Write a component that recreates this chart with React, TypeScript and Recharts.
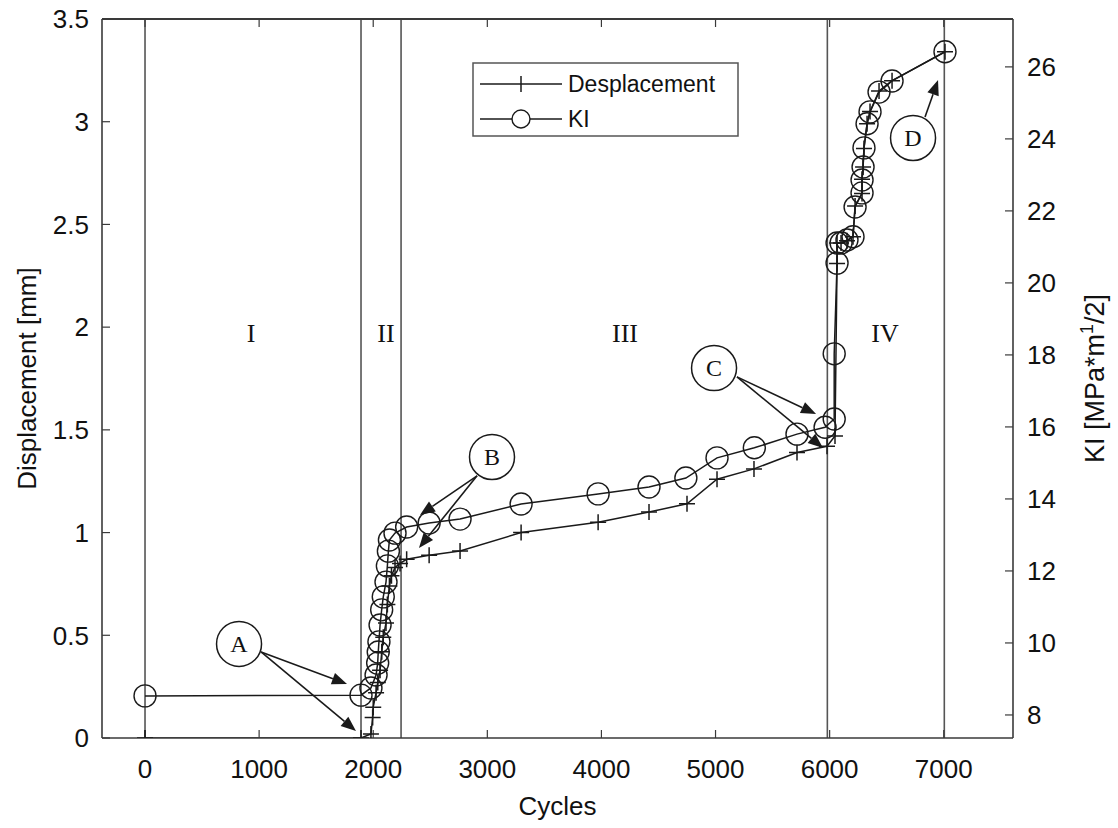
import React from "react";
import {
  ComposedChart,
  Line,
  XAxis,
  YAxis,
  ReferenceLine,
  ReferenceDot,
  Legend,
} from "recharts";

// axis ticks
const cycleTicks = [0, 1000, 2000, 3000, 4000, 5000, 6000, 7000];
const dispTicks = [0, 0.5, 1, 1.5, 2, 2.5, 3, 3.5];
const kiTicks = [8, 10, 12, 14, 16, 18, 20, 22, 24, 26];

// Displacement series (cycles / mm)
const dispCycles = [
  0, 1893, 1980, 1995, 2000, 2025, 2040, 2060, 2075, 2088, 2112, 2124, 2142, 2160,
  2191, 2235, 2293, 2490, 2761, 3296, 3971, 4417, 4750, 5013, 5337, 5714, 5977, 6047,
  6065, 6065, 6100, 6152, 6205, 6223, 6284, 6284, 6293, 6301, 6328, 6354, 6433, 6547, 7011,
];
const dispValues = [
  0, 0, 0.02, 0.1, 0.15, 0.22, 0.27, 0.33, 0.42, 0.49, 0.56, 0.65, 0.74, 0.79,
  0.83, 0.85, 0.87, 0.89, 0.91, 1.0, 1.05, 1.1, 1.14, 1.26, 1.31, 1.39, 1.42, 1.47,
  2.31, 2.41, 2.41, 2.42, 2.44, 2.59, 2.65, 2.72, 2.78, 2.87, 2.99, 3.05, 3.15, 3.2, 3.34,
];

// KI series (cycles / MPa*m^1/2)
const kiCycles = [
  0, 1893, 1980, 2025, 2039, 2044, 2050, 2060, 2074, 2088, 2112, 2124, 2133, 2142,
  2191, 2293, 2490, 2761, 3296, 3971, 4417, 4740, 5013, 5340, 5714, 5960, 6040, 6040,
  6065, 6065, 6100, 6152, 6205, 6223, 6284, 6284, 6293, 6301, 6328, 6354, 6433, 6547, 7011,
];
const kiValues = [
  8.53, 8.55, 8.75, 9.11, 9.44, 9.75, 10.03, 10.5, 10.92, 11.28, 11.69, 12.14, 12.55, 12.86,
  13.05, 13.22, 13.33, 13.44, 13.86, 14.14, 14.33, 14.58, 15.14, 15.42, 15.8, 15.99, 16.22, 18.03,
  20.55, 21.11, 21.11, 21.19, 21.28, 22.11, 22.5, 22.86, 23.22, 23.75, 24.42, 24.75, 25.3, 25.61, 26.42,
];

// stage boundaries and labels
const stageLines = [0, 1893, 2244, 5980, 7005];
const stageNames = ["I", "II", "III", "IV"];
const stageLabelCycles = [929, 2112, 4207, 6486];
const stageLabelDisp = 1.97;

// callouts (cycles, mm)
const calloutNames = ["A", "B", "C", "D"];
const calloutCenters = [
  [824, 0.458],
  [3041, 1.368],
  [4987, 1.801],
  [6731, 2.921],
];
const calloutArrows = [
  [[1017, 0.419], [1770, 0.263]],
  [[1017, 0.419], [1849, 0.034]],
  [[2910, 1.276], [2410, 1.086]],
  [[2910, 1.276], [2401, 0.925]],
  [[5188, 1.758], [5881, 1.577]],
  [[5188, 1.758], [5942, 1.412]],
  [[6836, 3.023], [6950, 3.203]],
];

const seriesNames = ["Desplacement", "KI"];

const dispData = dispCycles.map((c, i) => ({ cycles: c, disp: dispValues[i] }));
const kiData = kiCycles.map((c, i) => ({ cycles: c, ki: kiValues[i] }));

const X_DOMAIN = [-377, 7607];
const DISP_DOMAIN = [0, 3.5];

const INK = "#1a1a1a";
const AXIS = "#3a3a3a";
const SANS = "'Liberation Sans', Arial, sans-serif";
const SERIF = "'Liberation Serif', 'Times New Roman', serif";

const W = 1118;
const H = 828;
const TOP = 19;
const LEFT_W = 102;
const RIGHT_W = 105;
const BOTTOM_H = 90;
const PLOT_H = H - TOP - BOTTOM_H;

const tickStyle = { fill: "#111", fontSize: 26, fontFamily: SANS };

function PlusDot(p: any) {
  const { cx, cy, index } = p;
  if (cx == null || cy == null) return <g key={index} />;
  return (
    <path
      key={index}
      d={`M${cx - 8},${cy}H${cx + 8}M${cx},${cy - 8}V${cy + 8}`}
      stroke={INK}
      strokeWidth={1.5}
      fill="none"
    />
  );
}

function RingDot(p: any) {
  const { cx, cy, index } = p;
  if (cx == null || cy == null) return <g key={index} />;
  return <circle key={index} cx={cx} cy={cy} r={11} stroke={INK} strokeWidth={1.4} fill="none" />;
}

function Arrow(p: any) {
  const { x1, y1, x2, y2 } = p;
  const dx = x2 - x1;
  const dy = y2 - y1;
  const len = Math.hypot(dx, dy) || 1;
  const ux = dx / len;
  const uy = dy / len;
  const L = 15;
  const hw = 6;
  const bx = x2 - ux * L;
  const by = y2 - uy * L;
  const pts = `${x2},${y2} ${bx - uy * hw},${by + ux * hw} ${bx + uy * hw},${by - ux * hw}`;
  return (
    <g>
      <line x1={x1} y1={y1} x2={bx} y2={by} stroke={INK} strokeWidth={1.6} />
      <polygon points={pts} fill={INK} />
    </g>
  );
}

function LegendBox(props: any) {
  const names = (props.payload || []).map((e: any) => e.value);
  const labels = names.length === 2 ? names : seriesNames;
  return (
    <svg width={268} height={76} style={{ display: "block" }}>
      <rect x={1} y={1} width={265} height={73} fill="#fff" stroke="#555" strokeWidth={1.5} />
      <line x1={8} y1={22} x2={90} y2={22} stroke={INK} strokeWidth={1.5} />
      <line x1={49} y1={14} x2={49} y2={30} stroke={INK} strokeWidth={1.5} />
      <text x={96} y={30} fontSize={23} fontFamily={SANS} fill="#111">
        {labels[0]}
      </text>
      <line x1={8} y1={57} x2={90} y2={57} stroke={INK} strokeWidth={1.5} />
      <circle cx={49} cy={57} r={9} stroke={INK} strokeWidth={1.4} fill="#fff" />
      <text x={96} y={65} fontSize={23} fontFamily={SANS} fill="#111">
        {labels[1]}
      </text>
    </svg>
  );
}

export default function App() {
  const plotMidY = TOP + PLOT_H / 2;
  return (
    <div style={{ position: "absolute", left: 0, top: 0, width: W, height: H, background: "#fff" }}>
      <ComposedChart width={W} height={H} margin={{ top: 0, right: 0, bottom: 0, left: 0 }}>
        <XAxis
          dataKey="cycles"
          type="number"
          domain={X_DOMAIN}
          ticks={cycleTicks}
          interval={0}
          allowDataOverflow
          height={BOTTOM_H}
          tickSize={-8}
          tickMargin={30}
          tick={tickStyle}
          axisLine={{ stroke: AXIS, strokeWidth: 1.6 }}
          tickLine={{ stroke: AXIS, strokeWidth: 1.2 }}
          label={{
            content: () => (
              <text x={LEFT_W + (W - LEFT_W - RIGHT_W) / 2} y={H - 13} textAnchor="middle" fontSize={26} fontFamily={SANS} fill="#111">
                Cycles
              </text>
            ),
          }}
        />
        {/* top edge of the plot box, inward ticks, no labels */}
        <XAxis
          xAxisId="top"
          orientation="top"
          dataKey="cycles"
          type="number"
          domain={X_DOMAIN}
          ticks={cycleTicks}
          interval={0}
          allowDataOverflow
          height={TOP}
          tickSize={-8}
          tickMargin={0}
          tick={() => <g />}
          axisLine={{ stroke: AXIS, strokeWidth: 2 }}
          tickLine={{ stroke: AXIS, strokeWidth: 1.2 }}
        />
        <YAxis
          yAxisId="left"
          orientation="left"
          type="number"
          domain={DISP_DOMAIN}
          ticks={dispTicks}
          interval={0}
          allowDataOverflow
          width={LEFT_W}
          tickSize={-8}
          tickMargin={21}
          tick={tickStyle}
          axisLine={{ stroke: AXIS, strokeWidth: 1.6 }}
          tickLine={{ stroke: AXIS, strokeWidth: 1.2 }}
          label={{
            content: () => (
              <text
                x={36}
                y={plotMidY}
                transform={`rotate(-90, 36, ${plotMidY})`}
                textAnchor="middle"
                fontSize={26}
                fontFamily={SANS}
                fill="#111"
              >
                Displacement [mm]
              </text>
            ),
          }}
        />
        <YAxis
          yAxisId="right"
          orientation="right"
          type="number"
          domain={[7.36, 27.33]}
          ticks={kiTicks}
          interval={0}
          allowDataOverflow
          width={RIGHT_W}
          tickSize={-8}
          tickMargin={22}
          tick={tickStyle}
          axisLine={{ stroke: AXIS, strokeWidth: 1.6 }}
          tickLine={{ stroke: AXIS, strokeWidth: 1.2 }}
          label={{
            content: () => (
              <text
                x={1104}
                y={plotMidY}
                transform={`rotate(-90, 1104, ${plotMidY})`}
                textAnchor="middle"
                fontSize={27}
                fontFamily={SANS}
                fill="#111"
              >
                KI [MPa*m
                <tspan dy={-11} fontSize={18}>
                  1
                </tspan>
                <tspan dy={11}>/2]</tspan>
              </text>
            ),
          }}
        />

        {stageLines.map((x) => (
          <ReferenceLine key={`s${x}`} x={x} yAxisId="left" stroke="#555" strokeWidth={1.6} />
        ))}

        {stageNames.map((n, i) => (
          <ReferenceDot
            key={`n${n}`}
            x={stageLabelCycles[i]}
            y={stageLabelDisp}
            yAxisId="left"
            shape={(p: any) => (
              <text x={p.cx} y={p.cy + 9} textAnchor="middle" fontSize={26} fontFamily={SERIF} fill="#111">
                {n}
              </text>
            )}
          />
        ))}

        {calloutArrows.map((seg, i) => (
          <ReferenceLine
            key={`a${i}`}
            yAxisId="left"
            segment={[
              { x: seg[0][0], y: seg[0][1] },
              { x: seg[1][0], y: seg[1][1] },
            ]}
            shape={Arrow}
            ifOverflow="visible"
          />
        ))}

        {calloutNames.map((n, i) => (
          <ReferenceDot
            key={`c${n}`}
            x={calloutCenters[i][0]}
            y={calloutCenters[i][1]}
            yAxisId="left"
            shape={(p: any) => (
              <g>
                <circle cx={p.cx} cy={p.cy} r={22.5} fill="#fff" stroke={INK} strokeWidth={1.5} />
                <text x={p.cx} y={p.cy + 8} textAnchor="middle" fontSize={24} fontFamily={SERIF} fill="#111">
                  {n}
                </text>
              </g>
            )}
          />
        ))}

        <Line
          data={dispData}
          yAxisId="left"
          dataKey="disp"
          name={seriesNames[0]}
          type="linear"
          stroke={INK}
          strokeWidth={1.5}
          dot={PlusDot}
          activeDot={false}
          isAnimationActive={false}
        />
        <Line
          data={kiData}
          yAxisId="right"
          dataKey="ki"
          name={seriesNames[1]}
          type="linear"
          stroke={INK}
          strokeWidth={1.5}
          dot={RingDot}
          activeDot={false}
          isAnimationActive={false}
        />

        <Legend
          layout="vertical"
          align="center"
          verticalAlign="middle"
          content={LegendBox}
          wrapperStyle={{ position: "absolute", left: 472, top: 62, width: 268, height: 76 }}
        />
      </ComposedChart>
    </div>
  );
}
